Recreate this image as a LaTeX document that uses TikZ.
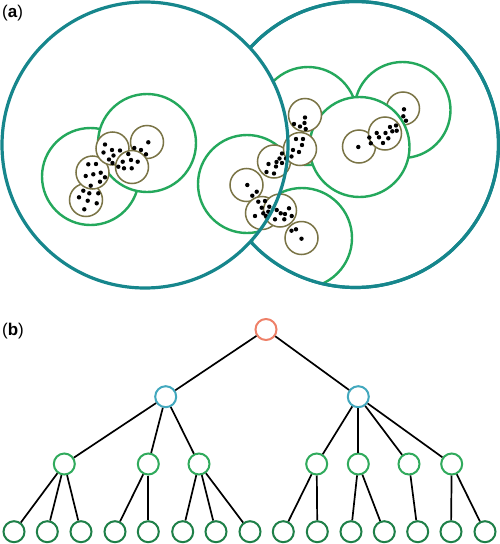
\documentclass[tikz,border=0pt]{standalone}
\usepackage{fontspec}
\setmainfont{Liberation Sans}
\definecolor{tealc}{RGB}{22,134,140}
\definecolor{greenc}{RGB}{36,168,92}
\definecolor{olivec}{RGB}{122,116,70}
\definecolor{rootc}{RGB}{238,128,104}
\definecolor{bluec}{RGB}{66,168,190}
\definecolor{lvtwo}{RGB}{48,170,92}
\definecolor{lvthree}{RGB}{30,128,72}
\begin{document}
\begin{tikzpicture}[x=1pt,y=-1pt,
  tealcirc/.style={draw=tealc,line width=3.2pt},
  greencirc/.style={draw=greenc,line width=2.4pt,fill=white},
  olivecirc/.style={draw=olivec,line width=1.5pt,fill=white},
  treenode/.style={circle,minimum size=21pt,inner sep=0pt,line width=2pt,fill=white},
  rootn/.style={treenode,draw=rootc},
  midn/.style={treenode,draw=bluec},
  lowern/.style={treenode,draw=lvtwo},
  leafn/.style={treenode,draw=lvthree},
  edge/.style={line width=1.7pt,black},
  lbl/.style={anchor=west,inner sep=0pt,font=\fontsize{17}{20}\selectfont}]
\useasboundingbox (0,0) rectangle (500,544);

% ---------- (a) ----------
% right big circle
\fill[white] (355.5,144.5) circle[radius=143pt];
\draw[tealcirc] (355.5,144.5) circle[radius=143pt];
\begin{scope}
  \clip (355.5,144.5) circle[radius=143pt];
  \draw[greencirc] (308,116) circle[radius=49pt];
  \draw[greencirc] (402.5,110) circle[radius=48pt];
  \draw[olivecirc] (403,108.5) circle[radius=16.5pt];
  \draw[greencirc] (359.5,147) circle[radius=50pt];
  \draw[greencirc] (302,238) circle[radius=50pt];
\end{scope}
\draw[tealcirc] (355.5,144.5) circle[radius=143pt];
% left big circle (fill)
\fill[white] (145,145) circle[radius=143pt];
\begin{scope}
  \clip (145,145) circle[radius=143pt];
  \draw[greencirc] (90.5,176.5) circle[radius=48.5pt];
  \draw[greencirc] (147,143) circle[radius=49pt];
  \draw[greencirc] (247,184) circle[radius=49pt];
\end{scope}
% small olive circles
\foreach \x/\y in {86/200, 92.5/172.5, 112.5/148.5, 147/142, 132/167,
  274/161.5, 246.5/185, 262/213, 280/210.5, 301.5/238,
  305/115, 300/149, 359/146.5, 385/133.5}
  \draw[olivecirc] (\x,\y) circle[radius=16.5pt];
% dots
\foreach \x/\y in {
  88.3/164.3, 96/164, 85.7/176, 93.3/174.3, 100.7/172.7, 105/177.3, 90.7/185.7, 100/181.7,
  83.3/190.7, 89.3/193.3, 98.3/193.3, 79/197.3, 87.7/200.7, 96.7/203.3, 84.3/209.3,
  105/144.5, 112/150, 120/150.5, 103.5/152.5, 113.5/155.5, 109/159.5, 112.5/163,
  148.3/142.3, 134.3/148, 141/150, 146/154.3,
  128.3/154, 122.7/161.7, 131/160, 137.7/161.7, 118.3/166.7, 124/168.3, 131.7/168.3,
  282/153.5, 279.5/158.5, 286/158.5, 276.5/162, 282/163, 268.5/164, 276/166.5, 266.5/172, 274/173.5,
  247.3/185, 256.7/191.7, 252.3/195.7,
  258.3/201.7, 265/201, 261.7/207.7, 269.3/206.7, 263.3/213.3, 268.3/211.7, 255/216, 266/216,
  276.7/210, 280.7/213.3, 289/208.3, 285/214, 291.7/216, 275/219.3, 284.3/219.3,
  291.5/230.7, 296/229.3, 301.5/238.7,
  305/117.5, 304.5/123, 300/126.5, 294/124, 305.7/129,
  296/139, 303/139, 302/145, 293/150, 299/152, 291.5/156.5,
  404/109.3, 403.3/116.3, 406/120.7,
  358.3/147, 369.3/137.5, 370.8/143.3,
  376.7/133, 379/137.3, 385.5/133, 383/143, 388.3/138.3, 390/127, 396/125.5, 396.7/130.7, 392.3/131.3}
  \fill[black] (\x,\y) circle[radius=2.2pt];
% left big circle outline on top
\draw[tealcirc] (145,145) circle[radius=143pt];
\node[lbl] (la) at (2,13.5) {(\textbf{a})};

% ---------- (b) ----------
\node[lbl] (lb) at (2,331) {(\textbf{b})};
\node[rootn] (r) at (266,329.5) {};
\node[midn] (a) at (165.7,396.7) {};
\node[midn] (b) at (358.3,396.7) {};
\node[lowern] (a1) at (64.3,464) {};
\node[lowern] (a2) at (148.3,464) {};
\node[lowern] (a3) at (199,464) {};
\node[lowern] (b1) at (316.7,464) {};
\node[lowern] (b2) at (358.3,464) {};
\node[lowern] (b3) at (409,464) {};
\node[lowern] (b4) at (451.7,464) {};
\foreach \i/\x in {1/14, 2/47.3, 3/81, 4/115, 5/148.3, 6/182.7, 7/216, 8/250,
  9/283.3, 10/317.3, 11/351, 12/384.3, 13/417.7, 14/451, 15/485}
  \node[leafn] (l\i) at (\x,531.7) {};
\foreach \p/\c in {r/a, r/b, a/a1, a/a2, a/a3, b/b1, b/b2, b/b3, b/b4,
  a1/l1, a1/l2, a1/l3, a2/l4, a2/l5, a3/l6, a3/l7, a3/l8,
  b1/l9, b1/l10, b2/l11, b2/l12, b3/l13, b4/l14, b4/l15}
  \draw[edge] (\p) -- (\c);
\end{tikzpicture}
\end{document}
